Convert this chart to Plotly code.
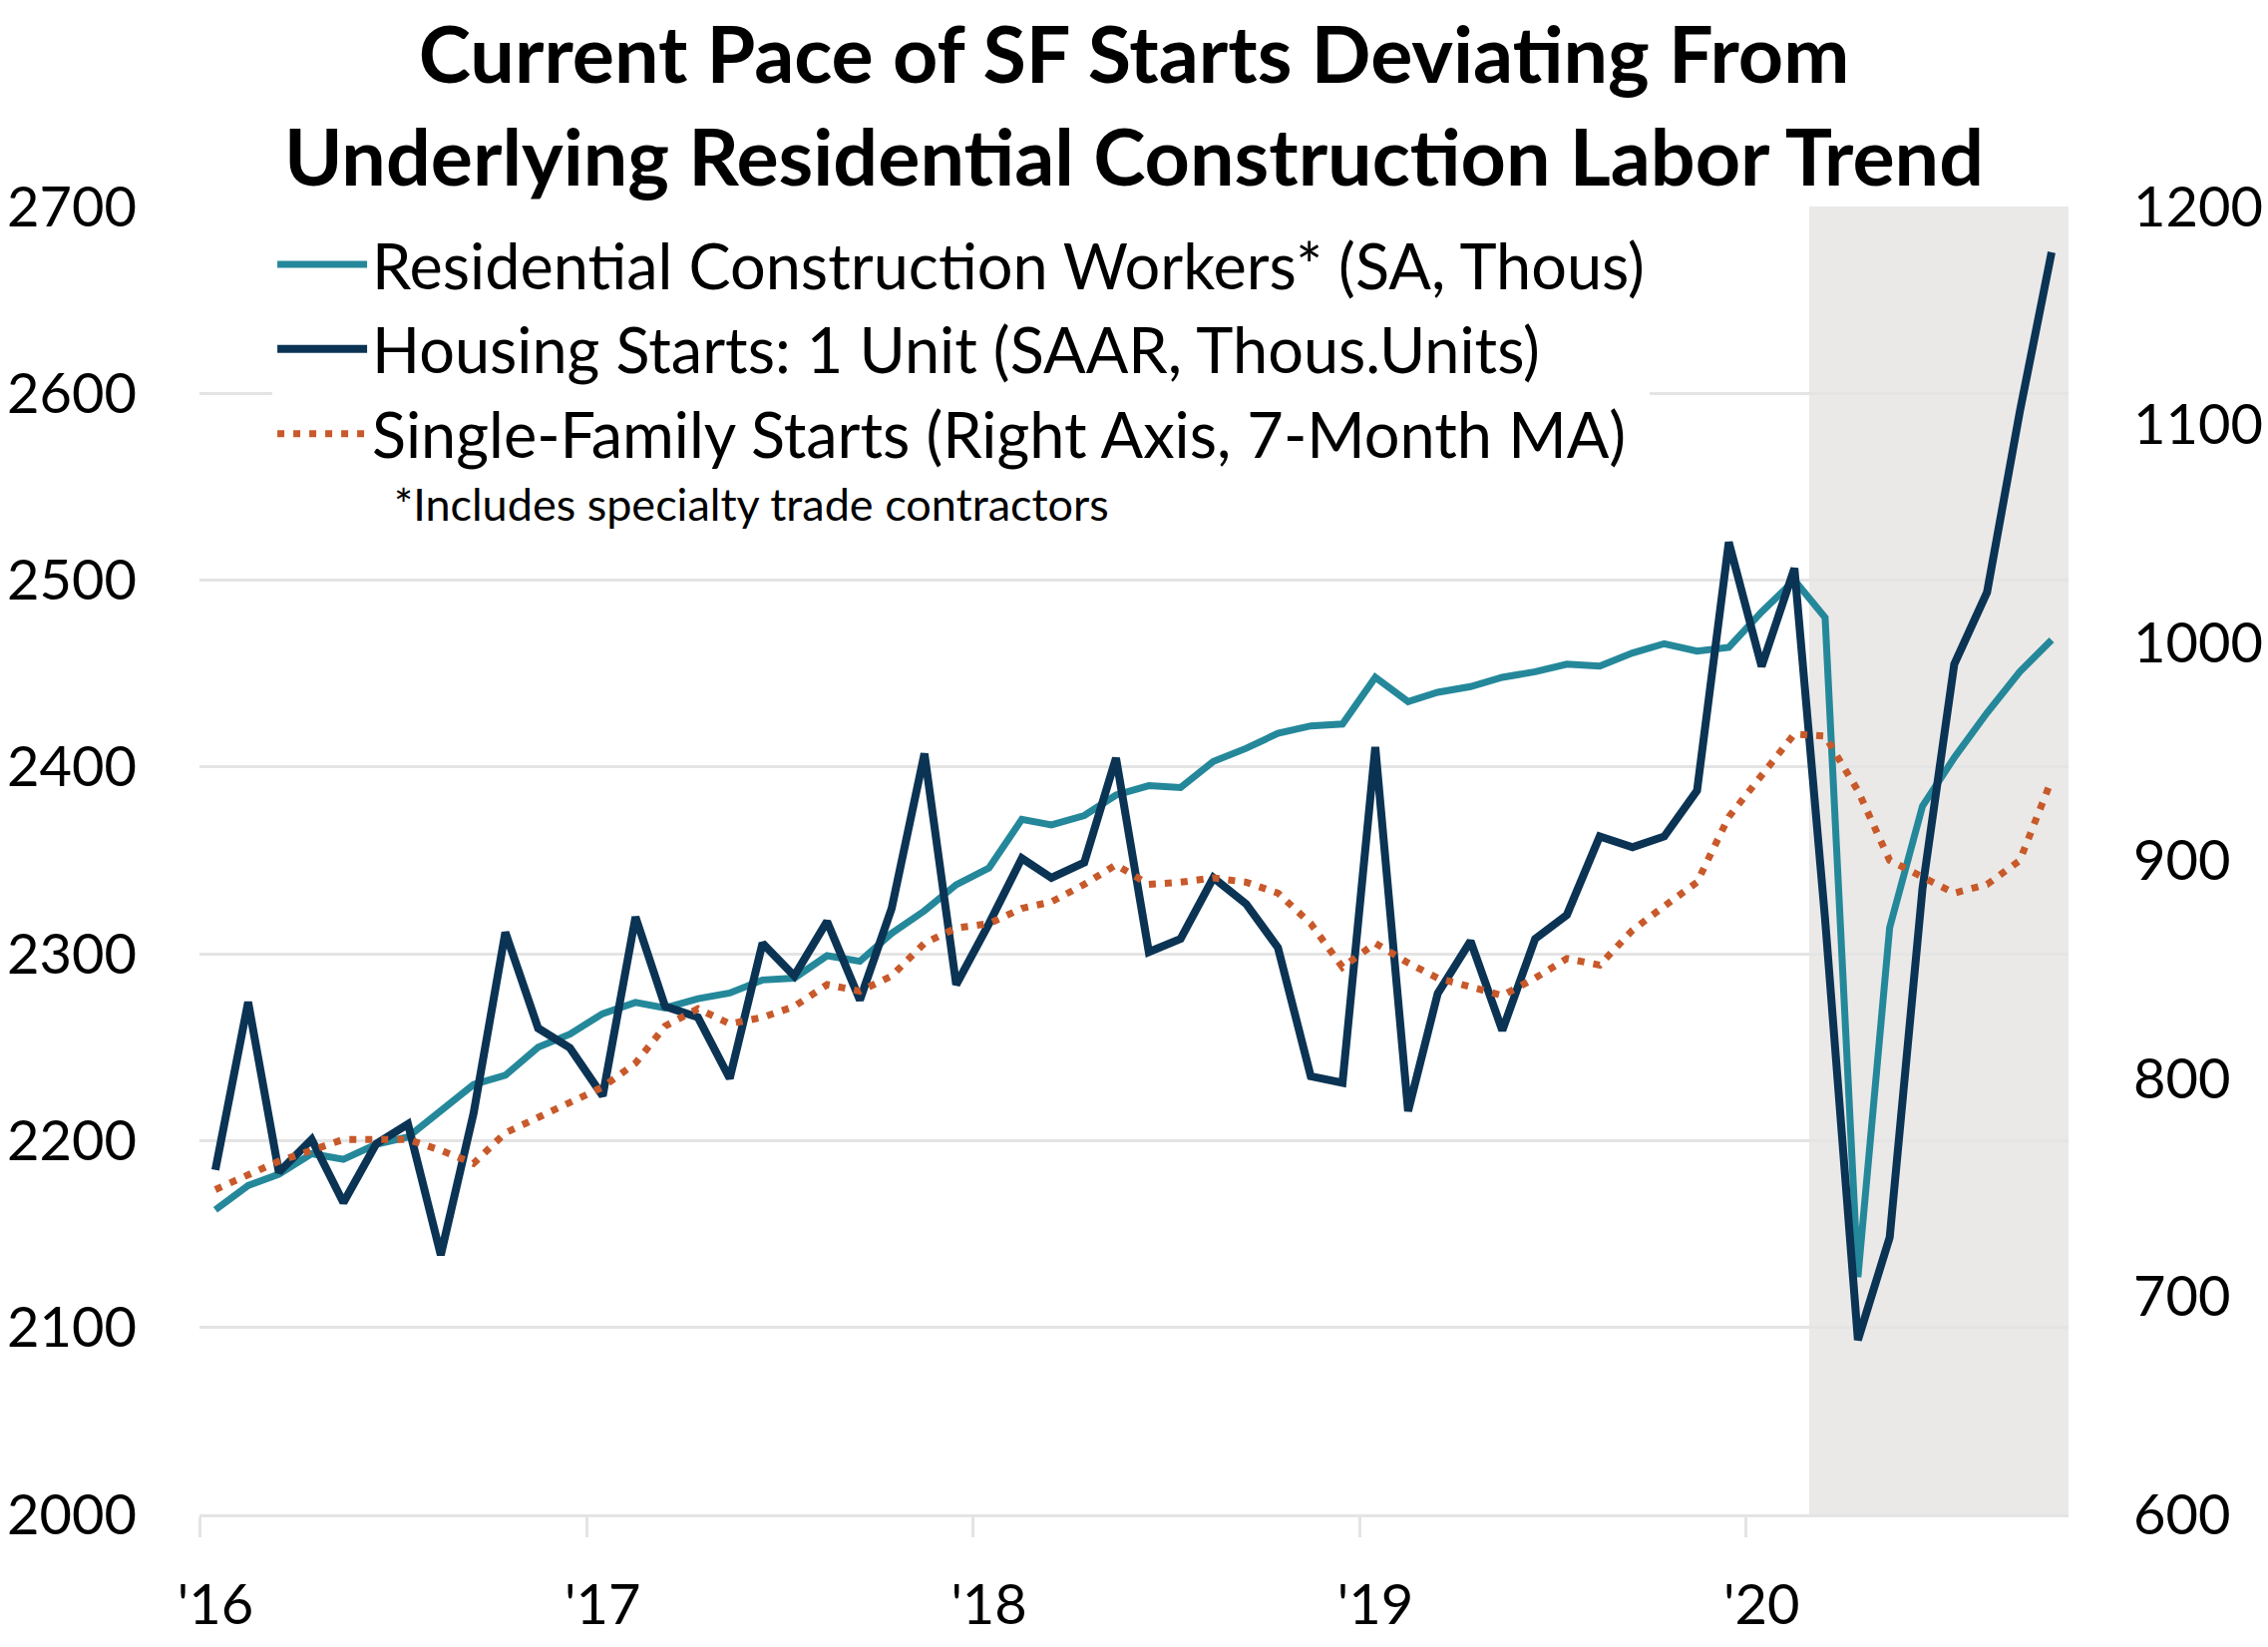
import plotly.graph_objects as go
import pandas as pd

# ---------------- data (monthly, Jan 2016 - Oct 2020) ----------------
months = pd.date_range("2016-01-01", "2020-10-01", freq="MS")

# Residential construction workers incl. specialty trade (SA, thous) - left axis
res_workers = [2163, 2176, 2182, 2193, 2190, 2198, 2202, 2216, 2230, 2235, 2250, 2257,
               2268, 2274, 2271, 2276, 2279, 2286, 2287, 2299, 2296, 2311, 2323, 2337,
               2346, 2372, 2369, 2374, 2385, 2390, 2389, 2403, 2410, 2418, 2422, 2423,
               2448, 2435, 2440, 2443, 2448, 2451, 2455, 2454, 2461, 2466, 2462, 2464,
               2483, 2500, 2480, 2127, 2314, 2379, 2405, 2429, 2451, 2468]

# Housing starts: 1 unit (SAAR, thous. units) - right axis
sf_starts = [758, 835, 757, 772, 743, 770, 779, 719, 784, 867, 823, 814,
             792, 874, 833, 828, 800, 862, 847, 872, 836, 878, 949, 843,
             871, 901, 892, 899, 947, 858, 864, 892, 880, 860, 801, 798,
             952, 785, 839, 863, 822, 864, 875, 911, 906, 911, 932, 1046,
             989, 1034, 873, 680, 727, 887, 990, 1023, 1106, 1179]

# Single-family starts, 7-month moving average - right axis
sf_starts_ma7 = [749, 756, 762, 767, 772, 772, 772, 767, 761, 775, 782, 789,
                 796, 807, 824, 832, 825, 828, 833, 843, 840, 847, 862, 869,
                 871, 878, 881, 889, 898, 889, 890, 892, 890, 885, 871, 851,
                 862, 853, 846, 842, 838, 846, 855, 852, 868, 879, 890, 920,
                 939, 958, 957, 932, 900, 892, 885, 889, 900, 937]

year_ticks = ["2016-01-16", "2017-01-16", "2018-01-16", "2019-01-16", "2020-01-16"]
year_labels = ["'16", "'17", "'18", "'19", "'20"]

recession_start = "2020-03-01"
recession_end = "2020-11-01"

# ---------------- styling ----------------
TEAL = "#24889a"
NAVY = "#0b3354"
ORANGE = "#c8592a"
GRID = "#e4e4e4"
SHADE = "#ebe9e7"
FONT = "Lato, 'Source Sans Pro', 'Open Sans', sans-serif"

x = months + pd.Timedelta(days=15)

fig = go.Figure()
fig.add_trace(go.Scatter(
    x=x, y=res_workers, mode="lines",
    name="Residential Construction Workers* (SA, Thous)",
    line=dict(color=TEAL, width=7), yaxis="y"))
fig.add_trace(go.Scatter(
    x=x, y=sf_starts, mode="lines",
    name="Housing Starts: 1 Unit (SAAR, Thous.Units)",
    line=dict(color=NAVY, width=8), yaxis="y2"))
fig.add_trace(go.Scatter(
    x=x, y=sf_starts_ma7, mode="lines",
    name="Single-Family Starts (Right Axis, 7-Month MA)",
    line=dict(color=ORANGE, width=7, dash="7px,9px"), yaxis="y2"))

fig.add_shape(type="rect", xref="x", yref="paper",
              x0=recession_start, x1=recession_end, y0=0, y1=1,
              fillcolor=SHADE, line=dict(width=0), layer="between")

fig.add_annotation(text="*Includes specialty trade contractors",
                   xref="paper", yref="paper", x=0.103, y=0.773,
                   xanchor="left", yanchor="middle", showarrow=False,
                   font=dict(size=45, color="#000000", family=FONT))

fig.update_layout(
    width=2274, height=1651,
    margin=dict(l=200, r=200, t=207, b=133, autoexpand=False),
    paper_bgcolor="white", plot_bgcolor="white",
    font=dict(family=FONT, color="#000000"),
    title=dict(
        text="<b>Current Pace of SF Starts Deviating From<br>Underlying Residential Construction Labor Trend</b>",
        x=0.5, xanchor="center", xref="paper",
        y=1 - 83 / 1651, yanchor="middle", yref="container",
        font=dict(size=79, family=FONT, color="#000000", weight=900)),
    legend=dict(x=0.039, y=0.992, xanchor="left", yanchor="top",
                bgcolor="white", borderwidth=0,
                font=dict(size=63, family=FONT, color="#000000"),
                itemwidth=90, tracegroupgap=0),
    showlegend=True,
    xaxis=dict(
        type="date", range=["2016-01-01", "2020-11-01"], automargin=False,
        tickmode="array", tickvals=year_ticks, ticktext=year_labels,
        ticks="", showgrid=False, zeroline=False,
        showline=True, linecolor=GRID, linewidth=3,
        tickfont=dict(size=56, family=FONT, color="#000000"),
        ticklabelstandoff=40,
        minor=dict(ticks="outside", ticklen=20, tickwidth=3, tickcolor=GRID,
                   dtick="M12", tick0="2016-01-01", showgrid=False)),
    yaxis=dict(
        range=[2000, 2700], dtick=100, tick0=2000, automargin=False,
        showgrid=True, gridcolor=GRID, gridwidth=3,
        zeroline=False, showline=False, ticks="",
        tickfont=dict(size=56, family=FONT, color="#000000"),
        ticklabelstandoff=62),
    yaxis2=dict(
        range=[600, 1200], dtick=100, tick0=600, automargin=False,
        overlaying="y", side="right", showgrid=False,
        zeroline=False, showline=False, ticks="",
        tickfont=dict(size=56, family=FONT, color="#000000"),
        ticklabelstandoff=64),
)

fig.write_html("out.html")
